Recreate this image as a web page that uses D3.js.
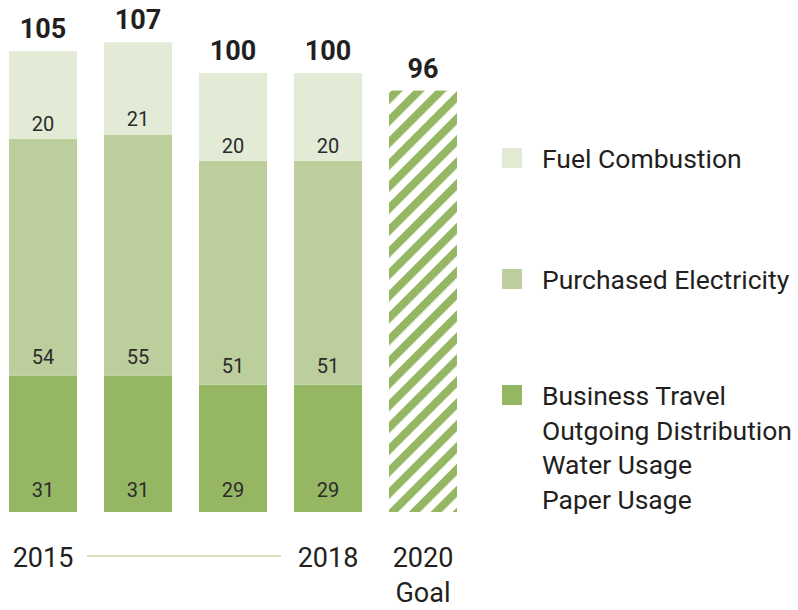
<!DOCTYPE html>
<html>
<head>
<meta charset="utf-8">
<script src="https://cdn.jsdelivr.net/npm/d3@7"></script>
<style>
  body { margin: 0; background: #fff; }
  svg { font-family: Roboto, "Open Sans", sans-serif; }
</style>
</head>
<body>
<div id="chart"></div>
<script>
// chart values
const categories = ['2015', '2016', '2017', '2018', '2020 Goal'];
const businessTravel = [31, 31, 29, 29];
const purchasedElectricity = [54, 55, 51, 51];
const fuelCombustion = [20, 21, 20, 20];
const totals = [105, 107, 100, 100, 96];
const goalIndex = 4;
const seriesNames = ['Business Travel', 'Purchased Electricity', 'Fuel Combustion'];
const legendLabels = [
    ['Fuel Combustion'],
    ['Purchased Electricity'],
    ['Business Travel', 'Outgoing Distribution', 'Water Usage', 'Paper Usage']
];
const axisLabels = [['2015'], [], [], ['2018'], ['2020', 'Goal']];

const width = 798;
const height = 610;

const colors = {
    'Fuel Combustion': '#e3ebd7',
    'Purchased Electricity': '#bdce9d',
    'Business Travel': '#95b663'
};

const svg = d3.select('#chart').append('svg')
    .attr('width', width)
    .attr('height', height);

// hatch for the goal bar
const defs = svg.append('defs');
const pattern = defs.append('pattern')
    .attr('id', 'hatch')
    .attr('patternUnits', 'userSpaceOnUse')
    .attr('width', 15.5)
    .attr('height', 15.5)
    .attr('patternTransform', 'rotate(45)');
pattern.append('rect').attr('width', 15.5).attr('height', 15.5).attr('fill', '#fff');
pattern.append('rect').attr('width', 8).attr('height', 15.5).attr('fill', colors['Business Travel']);

const x = d3.scaleBand()
    .domain(categories)
    .range([9, 457])
    .paddingInner(27 / 95)
    .paddingOuter(0);

const y = d3.scaleLinear()
    .domain([0, 100])
    .range([512, 73]);

// stacked data for the actual years
const rows = categories.slice(0, 4).map((c, i) => ({
    cat: c,
    'Business Travel': businessTravel[i],
    'Purchased Electricity': purchasedElectricity[i],
    'Fuel Combustion': fuelCombustion[i]
}));
const stacked = d3.stack().keys(seriesNames)(rows);

// label offset above each segment's bottom
const labelOffset = { 'Business Travel': 15, 'Purchased Electricity': 12, 'Fuel Combustion': 8 };

const layers = svg.append('g').selectAll('g')
    .data(stacked)
    .enter()
    .append('g')
    .attr('fill', d => colors[d.key]);

layers.selectAll('rect')
    .data(d => d)
    .enter()
    .append('rect')
    .attr('x', d => x(d.data.cat))
    .attr('width', x.bandwidth())
    .attr('y', d => y(d[1]))
    .attr('height', d => y(d[0]) - y(d[1]));

stacked.forEach(layer => {
    svg.append('g').selectAll('text')
        .data(layer)
        .enter()
        .append('text')
        .attr('x', d => x(d.data.cat) + x.bandwidth() / 2)
        .attr('y', d => y(d[0]) - labelOffset[layer.key])
        .attr('text-anchor', 'middle')
        .style('font-size', '20px')
        .style('fill', '#2b2b2b')
        .text(d => d[1] - d[0]);
});

// goal bar
svg.append('rect')
    .attr('x', x(categories[goalIndex]))
    .attr('width', x.bandwidth())
    .attr('y', y(totals[goalIndex]))
    .attr('height', y(0) - y(totals[goalIndex]))
    .attr('fill', 'url(#hatch)');

// totals
svg.append('g').selectAll('text')
    .data(totals)
    .enter()
    .append('text')
    .attr('x', (d, i) => x(categories[i]) + x.bandwidth() / 2)
    .attr('y', d => y(d) - 13)
    .attr('text-anchor', 'middle')
    .style('font-size', '27px')
    .style('font-weight', 'bold')
    .style('fill', '#231f20')
    .text(d => d);

// x labels
axisLabels.forEach((lines, i) => {
    lines.forEach((t, j) => {
        svg.append('text')
            .attr('x', x(categories[i]) + x.bandwidth() / 2)
            .attr('y', 567 + j * 35)
            .attr('text-anchor', 'middle')
            .style('font-size', '27px')
            .style('fill', '#231f20')
            .text(t);
    });
});

// connector between 2015 and 2018
svg.append('line')
    .attr('x1', x('2015') + x.bandwidth() + 10)
    .attr('x2', x('2018') - 13)
    .attr('y1', 556)
    .attr('y2', 556)
    .attr('stroke', '#c8d8ad')
    .attr('stroke-width', 1.5);

// legend
const legendY = [148, 269, 385];
const legendKeys = ['Fuel Combustion', 'Purchased Electricity', 'Business Travel'];
legendKeys.forEach((k, i) => {
    const g = svg.append('g').attr('transform', `translate(502, ${legendY[i]})`);
    g.append('rect')
        .attr('width', 20)
        .attr('height', 20)
        .attr('fill', colors[k]);
    legendLabels[i].forEach((t, j) => {
        g.append('text')
            .attr('x', 40)
            .attr('y', 20 + j * 34.7)
            .style('font-size', '26.5px')
            .style('fill', '#231f20')
            .text(t);
    });
});
</script>
</body>
</html>
